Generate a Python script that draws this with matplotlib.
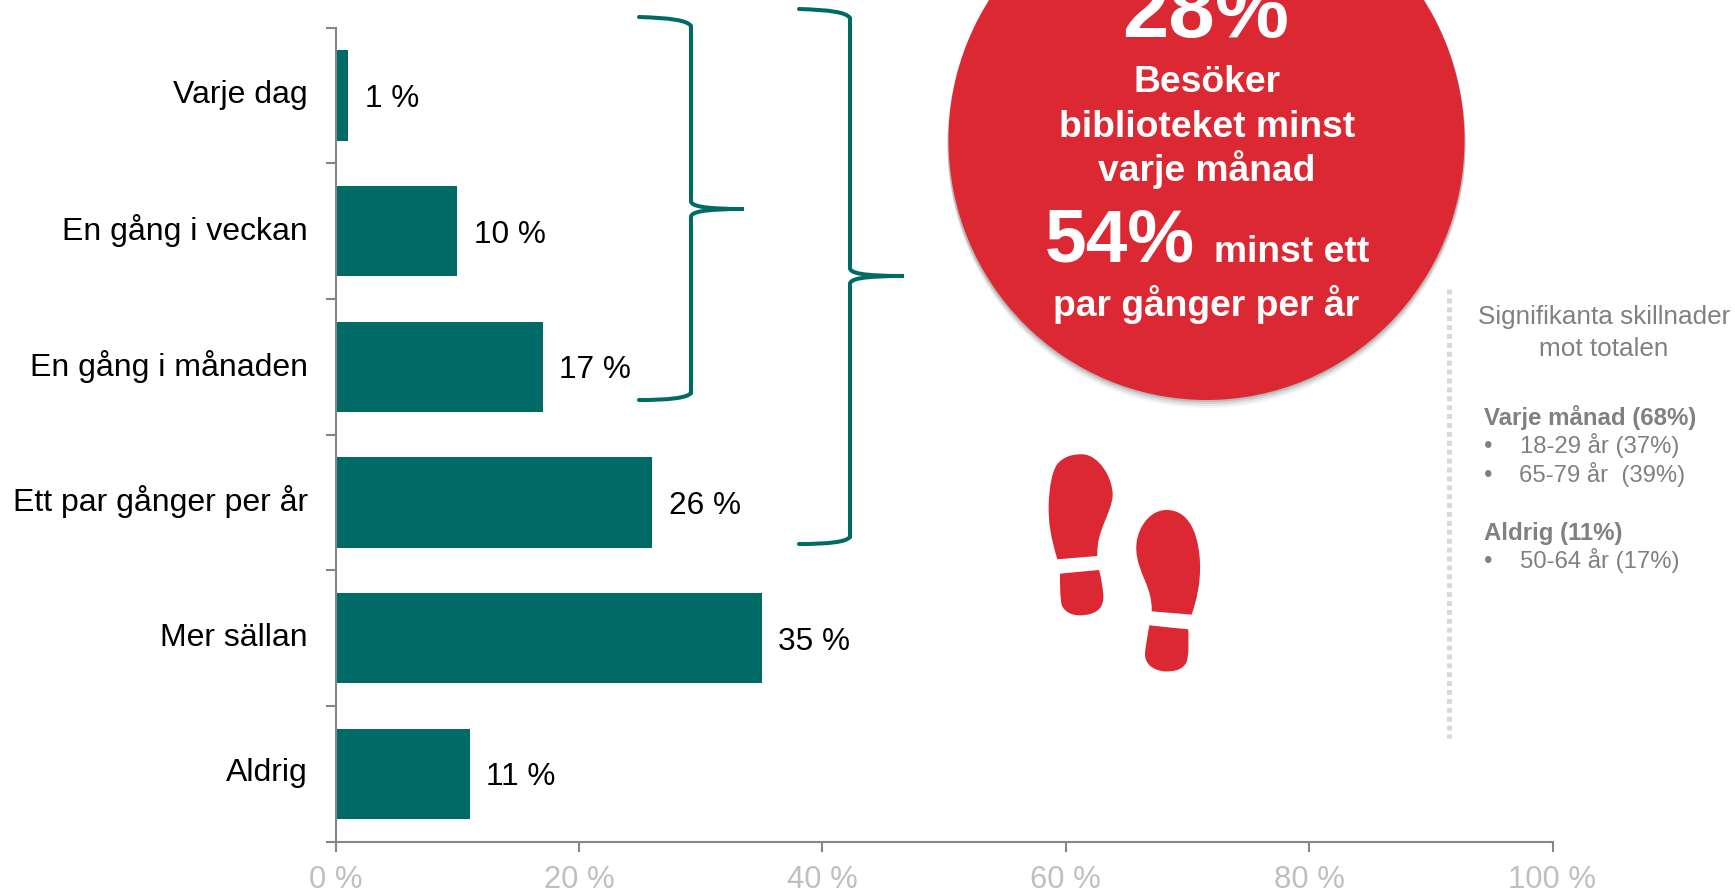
import matplotlib
matplotlib.use("Agg")
import matplotlib.pyplot as plt
from matplotlib.path import Path
from matplotlib.patches import PathPatch, Ellipse

plt.rcParams['font.family'] = ['Liberation Sans', 'DejaVu Sans']

categories = ["Varje dag", "En gång i veckan", "En gång i månaden",
              "Ett par gånger per år", "Mer sällan", "Aldrig"]
values = [1, 10, 17, 26, 35, 11]
x_ticks = [0, 20, 40, 60, 80, 100]
x_labels = ["0 %", "20 %", "40 %", "60 %", "80 %", "100 %"]

TEAL = "#006A67"
RED = "#DC2832"
AXIS = "#868686"
W, H = 1735, 892

fig = plt.figure(figsize=(W/100, H/100), dpi=100)
ax = fig.add_axes([335.7/W, 1-841.7/H, (1552.5-335.7)/W, (841.7-27.7)/H])
ypos = list(range(len(categories)))
ax.barh(ypos, values, height=0.667, color=TEAL)
ax.set_xlim(0, 100)
ax.set_ylim(len(categories)-0.5, -0.5)
ax.patch.set_alpha(0)
for s in ("top", "right"):
    ax.spines[s].set_visible(False)
for s in ("left", "bottom"):
    ax.spines[s].set_color(AXIS)
    ax.spines[s].set_linewidth(1.5)
ax.set_xticks(x_ticks)
ax.set_xticklabels(x_labels, fontsize=22.3, color="#BFBFBF")
ax.tick_params(axis="x", length=7.5, width=1.5, color=AXIS, pad=9.5)
ax.set_yticks([i-0.5 for i in range(len(categories)+1)])
ax.set_yticklabels([])
ax.tick_params(axis="y", which="major", length=7.5, width=1.5, color=AXIS)
for y, c in zip(ypos, categories):
    ax.annotate(c, (0, y), xytext=(-20, 0.4), textcoords="offset points",
                va="center", ha="right", fontsize=23, color="black")
for y, v in zip(ypos, values):
    ax.annotate(f"{v} %", (v, y), xytext=(12, -2.5), textcoords="offset points",
                va="center", ha="left", fontsize=22.7, color="black")

# Overlay in pixel coordinates for annotations
ov = fig.add_axes([0, 0, 1, 1])
ov.set_xlim(0, W)
ov.set_ylim(H, 0)
ov.axis("off")

def brace(x0, xs, xt, y0, ym, y1):
    c = Path.CURVE4
    verts = [(x0, y0), (x0+30, y0+1), (xs-4, y0+3), (xs, y0+9),
             (xs, ym-8),
             (xs, ym-3), (xs+12, ym), (xt, ym),
             (xs+12, ym), (xs, ym+3), (xs, ym+8),
             (xs, y1-7),
             (xs-4, y1-2), (x0+30, y1), (x0, y1)]
    codes = [Path.MOVETO, c, c, c, Path.LINETO, c, c, c, c, c, c, Path.LINETO, c, c, c]
    ov.add_patch(PathPatch(Path(verts, codes), fill=False, ec=TEAL, lw=2.9, capstyle="round"))

brace(639, 691, 744, 17, 209, 400)
brace(799, 850, 904, 9, 276, 544)

# Circle with soft shadow
CX, CY, RX, RY = 1206.5, 140, 258, 260
for a, dy in [(0.04, 8), (0.06, 6), (0.08, 4), (0.12, 2)]:
    ov.add_patch(Ellipse((CX, CY+dy), 2*RX+2, 2*RY, fc="black", ec="none", alpha=a))
ov.add_patch(Ellipse((CX, CY), 2*RX, 2*RY, fc=RED, ec="none"))

def t(x, y, s, size, color="white", weight="normal", ha="center", va="baseline"):
    ov.text(x, y, s, fontsize=size, color=color, fontweight=weight, ha=ha, va=va)

t(1206, 37, "28%", 60, weight="bold")
t(1207, 92, "Besöker", 26.8, weight="bold")
t(1207, 137, "biblioteket minst", 26.8, weight="bold")
t(1207, 181, "varje månad", 26.8, weight="bold")
t(1120, 262, "54%", 54, weight="bold")
t(1292, 262, "minst ett", 26.8, weight="bold")
t(1206, 316, "par gånger per år", 26.8, weight="bold")

# Footprints
def shoe(ox, oy, sole, heel):
    c = Path.CURVE4
    def mk(pts):
        v = [(ox+x/3, oy+y/3) for x, y in pts]
        codes = [Path.MOVETO] + [c]*(len(v)-1)
        return Path(v, codes)
    for pts in (sole, heel):
        ov.add_patch(PathPatch(mk(pts), fc=RED, ec="none"))

left_sole = [(112, 388), (92, 320), (85, 280), (86, 225),
             (88, 170), (95, 130), (110, 105),
             (130, 78), (160, 72), (190, 73),
             (235, 76), (278, 140), (278, 195),
             (276, 250), (228, 300), (232, 378),
             (190, 381), (150, 385), (112, 388)]
left_heel = [(120, 431), (120, 460), (120, 500), (125, 525),
             (135, 550), (165, 560), (195, 555),
             (235, 550), (252, 530), (250, 495),
             (248, 470), (243, 440), (237, 420),
             (195, 424), (160, 427), (120, 431)]
right_sole = [(515, 554), (530, 510), (542, 460), (540, 400),
              (538, 340), (520, 240), (440, 240),
              (380, 240), (345, 310), (349, 360),
              (352, 430), (398, 470), (395, 544),
              (435, 547), (475, 551), (515, 554)]
right_heel = [(505, 598), (505, 630), (508, 670), (500, 695),
              (490, 720), (460, 726), (430, 724),
              (390, 718), (370, 695), (376, 660),
              (379, 635), (384, 610), (388, 586),
              (425, 590), (465, 594), (505, 598)]
shoe(1020, 430, left_sole, left_heel)
shoe(1020, 430, right_sole, right_heel)

# Side panel
ov.plot([1449, 1449], [289, 738], color="#D9D9D9", lw=3.6,
        linestyle=(0, (1, 0.78)), solid_capstyle="butt", dash_capstyle="butt")
G = "#808080"
t(1604, 324, "Signifikanta skillnader", 18.8, color=G)
t(1604, 356, "mot totalen", 18.8, color=G)
t(1484, 425, "Varje månad (68%)", 17.3, color=G, weight="bold", ha="left")
t(1484, 453, "•", 17.2, color=G, ha="left")
t(1520, 453, "18-29 år (37%)", 17.2, color=G, ha="left")
t(1484, 482, "•", 17.2, color=G, ha="left")
t(1519, 482, "65-79 år  (39%)", 17.2, color=G, ha="left")
t(1484, 540, "Aldrig (11%)", 17.3, color=G, weight="bold", ha="left")
t(1484, 568, "•", 17.2, color=G, ha="left")
t(1520, 568, "50-64 år (17%)", 17.2, color=G, ha="left")

fig.savefig("out.png", dpi=100, facecolor="white")
